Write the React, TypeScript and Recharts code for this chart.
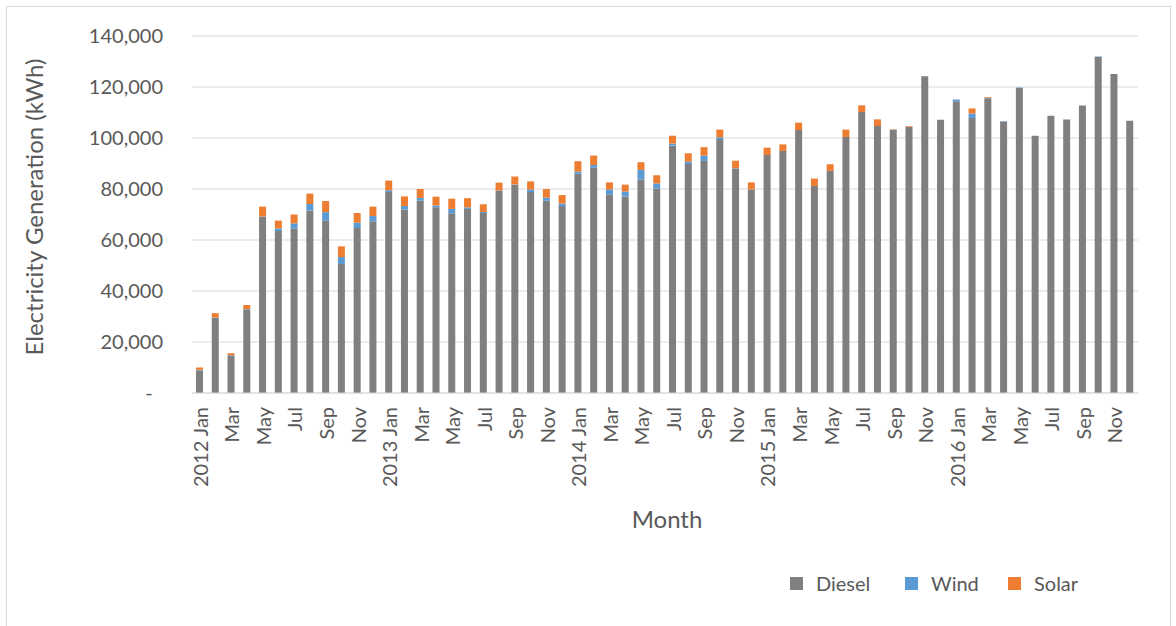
import React from "react";
import { BarChart, Bar, XAxis, YAxis, CartesianGrid } from "recharts";

const years = [2012, 2013, 2014, 2015, 2016];
const monthNames = ["Jan", "Feb", "Mar", "Apr", "May", "Jun", "Jul", "Aug", "Sep", "Oct", "Nov", "Dec"];

const diesel = [
    8900, 29400, 14500, 32800, 69000, 63500, 64500, 71600, 67600, 50600, 64700, 67400,
    78800, 71900, 75400, 72800, 70500, 72200, 70600, 79200, 81600, 78800, 75400, 73300,
    86000, 88400, 77800, 77100, 83700, 80200, 97000, 89800, 91000, 99600, 87900, 79700,
    93300, 94900, 103100, 81200, 87100, 100400, 110200, 104700, 103100, 104300, 124200, 107200,
    114400, 107800, 115600, 106500, 119600, 100900, 108700, 107300, 112700, 131800, 125100, 106800,
];

const wind = [
    200, 200, 300, 100, 200, 1000, 2000, 2500, 3300, 2700, 2100, 2000,
    700, 1400, 1100, 700, 1700, 600, 400, 200, 200, 1000, 1200, 1000,
    800, 1000, 2000, 1900, 3800, 2000, 800, 900, 2100, 700, 200, 100,
    0, 0, 0, 0, 0, 0, 0, 0, 100, 0, 0, 0,
    700, 1800, 200, 100, 200, 0, 0, 0, 0, 200, 0, 0,
];

const solar = [
    900, 1700, 800, 1600, 3900, 3100, 3500, 4100, 4400, 4200, 3800, 3700,
    3800, 3800, 3500, 3500, 4000, 3600, 3000, 3100, 3100, 3200, 3400, 3300,
    4100, 3700, 2800, 2700, 3000, 3200, 3100, 3300, 3300, 3000, 3000, 2800,
    2900, 2600, 2900, 2900, 2600, 2900, 2600, 2600, 200, 300, 0, 0,
    0, 2000, 300, 0, 0, 0, 0, 0, 0, 0, 0, 0,
];

const yTicks = [0, 20000, 40000, 60000, 80000, 100000, 120000, 140000];

const months = years.flatMap((yr) => monthNames.map((m) => (m === "Jan" ? `${yr} Jan` : m)));

const data = months.map((month, i) => ({
    month,
    diesel: diesel[i],
    wind: wind[i],
    solar: solar[i],
}));

const FONT = "Lato, 'Open Sans', sans-serif";
const TEXT = "#595959";

const legendItems = [
    { name: "Diesel", color: "#7f7f7f", left: 790 },
    { name: "Wind", color: "#5b9bd5", left: 905 },
    { name: "Solar", color: "#ed7d31", left: 1008 },
];

function MonthTick(props: any) {
    const { x, y, payload } = props;
    const ty = y + 14;
    return (
        <text
            x={x}
            y={ty}
            transform={`rotate(-90, ${x}, ${ty})`}
            textAnchor="end"
            dominantBaseline="central"
            fill={TEXT}
            fontSize={20}
            fontFamily={FONT}
        >
            {payload.value}
        </text>
    );
}

export default function App() {
    return (
        <div style={{ position: "absolute", left: 0, top: 0, width: 1176, height: 626, background: "#fff", overflow: "hidden", fontFamily: FONT }}>
            <div style={{ position: "absolute", left: 6, top: 6, width: 1165, height: 640, border: "1px solid #d9d9d9", boxSizing: "border-box" }} />
            <BarChart
                width={1176}
                height={626}
                data={data}
                margin={{ top: 36, right: 38, bottom: 0, left: 0 }}
                barSize={7}
            >
                <CartesianGrid vertical={false} stroke="#d9d9d9" />
                <XAxis
                    dataKey="month"
                    interval={1}
                    height={233}
                    tickLine={false}
                    tickSize={0}
                    tickMargin={0}
                    axisLine={{ stroke: "#d9d9d9" }}
                    tick={<MonthTick />}
                />
                <YAxis
                    width={192}
                    domain={[0, 140000]}
                    ticks={yTicks}
                    axisLine={false}
                    tickLine={false}
                    tickSize={0}
                    tickMargin={29}
                    tick={{ fill: TEXT, fontSize: 20, fontFamily: FONT }}
                    tickFormatter={(v: number) => (v === 0 ? "-\u00a0\u00a0" : v.toLocaleString("en-US"))}
                />
                <Bar dataKey="diesel" stackId="a" fill="#7f7f7f" name="Diesel" isAnimationActive={false} />
                <Bar dataKey="wind" stackId="a" fill="#5b9bd5" name="Wind" isAnimationActive={false} />
                <Bar dataKey="solar" stackId="a" fill="#ed7d31" name="Solar" isAnimationActive={false} />
            </BarChart>
            <div
                style={{
                    position: "absolute",
                    left: 33,
                    top: 207,
                    transform: "translate(-50%, -50%) rotate(-90deg)",
                    whiteSpace: "nowrap",
                    fontSize: 24,
                    color: TEXT,
                }}
            >
                Electricity Generation (kWh)
            </div>
            <div
                style={{
                    position: "absolute",
                    left: 667,
                    top: 518,
                    transform: "translate(-50%, -50%)",
                    whiteSpace: "nowrap",
                    fontSize: 24,
                    color: TEXT,
                }}
            >
                Month
            </div>
            {legendItems.map((item) => (
                <div key={item.name} style={{ position: "absolute", left: item.left, top: 572, height: 22, display: "flex", alignItems: "center" }}>
                    <span style={{ display: "inline-block", width: 13, height: 13, background: item.color, marginRight: 13 }} />
                    <span style={{ fontSize: 20, color: TEXT }}>{item.name}</span>
                </div>
            ))}
        </div>
    );
}
